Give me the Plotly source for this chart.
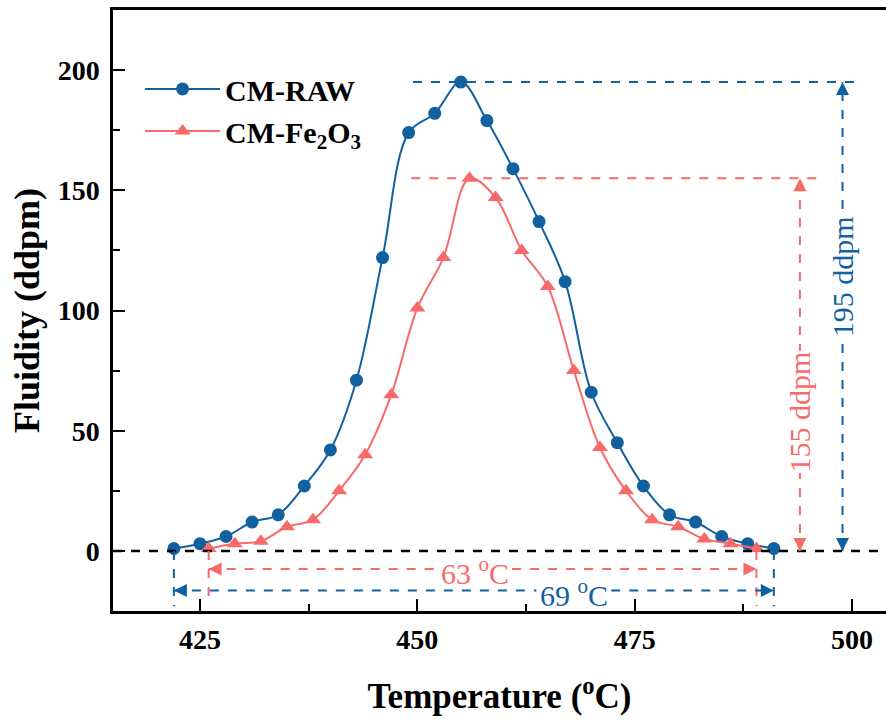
import plotly.graph_objects as go

# ---- data ----
raw_T = [422, 425, 428, 431, 434, 437, 440, 443, 446, 449, 452, 455,
         458, 461, 464, 467, 470, 473, 476, 479, 482, 485, 488, 491]
raw_F = [1, 3, 6, 12, 15, 27, 42, 71, 122, 174, 182, 195,
         179, 159, 137, 112, 66, 45, 27, 15, 12, 6, 3, 1]
fe_T = [426, 429, 432, 435, 438, 441, 444, 447, 450, 453, 456,
        459, 462, 465, 468, 471, 474, 477, 480, 483, 486, 489]
fe_F = [1, 3, 4, 10, 13, 25, 40, 65, 101, 122, 155,
        147, 125, 110, 75, 43, 25, 13, 10, 5, 3, 1]

raw_peak = 195
fe_peak = 155
raw_start, raw_end = 422, 491
fe_start, fe_end = 426, 489

x_ticks = [425, 450, 475, 500]
y_ticks = [0, 50, 100, 150, 200]

BLUE = "#11609f"
RED = "#f86a6a"
FONT = "Liberation Serif"

fig = go.Figure()
fig.add_trace(go.Scatter(
    x=raw_T, y=raw_F, name="<b>CM-RAW</b>", mode="lines+markers",
    line=dict(color=BLUE, width=2, shape="spline", smoothing=1.0),
    marker=dict(symbol="circle", size=13, color=BLUE)))
fig.add_trace(go.Scatter(
    x=fe_T, y=fe_F, name="<b>CM-Fe<sub>2</sub>O<sub>3</sub></b>", mode="lines+markers",
    line=dict(color=RED, width=2, shape="spline", smoothing=1.0),
    marker=dict(symbol="triangle-up", size=14, color=RED)))

shapes = []
def dline(x0, x1, y0, y1, color, width=2, xref="x"):
    shapes.append(dict(type="line", xref=xref, yref="y", x0=x0, x1=x1, y0=y0, y1=y1,
                       line=dict(color=color, width=width, dash="dash")))

# zero line
dline(0, 1, 0, 0, "black", 2.5, xref="paper")
# peak guide lines
dline(449.5, 500.6, raw_peak, raw_peak, BLUE)
dline(449.3, 496.4, fe_peak, fe_peak, RED)
# vertical arrow lines
bx, rx = 498.9, 494.0
dline(bx, bx, 0, raw_peak, BLUE)
dline(rx, rx, 0, fe_peak, RED)
# drop lines at start/end
dline(raw_start, raw_start, 0, -23, BLUE)
dline(raw_end, raw_end, 0, -23, BLUE)
dline(fe_start, fe_start, 0, -21, RED)
dline(fe_end, fe_end, 0, -23, RED)
# horizontal width arrows (split around the labels)
fe_y, raw_y = -7.5, -16.5
fe_lx, raw_lx = 456.6, 468.0
half = 4.3
dline(fe_start, fe_lx - half, fe_y, fe_y, RED)
dline(fe_lx + half, fe_end, fe_y, fe_y, RED)
dline(raw_start, raw_lx - half, raw_y, raw_y, BLUE)
dline(raw_lx + half, raw_end, raw_y, raw_y, BLUE)

annotations = []

def arrowhead(x, y, ax, ay, color):
    annotations.append(dict(x=x, y=y, ax=ax, ay=ay, xref="x", yref="y",
                            axref="x", ayref="y", text="", showarrow=True,
                            arrowhead=2, arrowsize=1.3, arrowwidth=2,
                            arrowcolor=color))

arrowhead(bx, raw_peak, bx, raw_peak - 6, BLUE)
arrowhead(bx, 0, bx, 6, BLUE)
arrowhead(rx, fe_peak, rx, fe_peak - 6, RED)
arrowhead(rx, 0, rx, 6, RED)
arrowhead(fe_start, fe_y, fe_start + 0.8, fe_y, RED)
arrowhead(fe_end, fe_y, fe_end - 0.8, fe_y, RED)
arrowhead(raw_start, raw_y, raw_start + 0.8, raw_y, BLUE)
arrowhead(raw_end, raw_y, raw_end - 0.8, raw_y, BLUE)

ANN = 30
annotations.append(dict(x=bx, y=114, text=f"{raw_peak} ddpm", textangle=-90,
                        showarrow=False, bgcolor="white", borderpad=0,
                        font=dict(family=FONT, size=ANN, color=BLUE)))
annotations.append(dict(x=rx, y=58, text=f"{fe_peak} ddpm", textangle=-90,
                        showarrow=False, bgcolor="white", borderpad=0,
                        font=dict(family=FONT, size=ANN, color=RED)))
annotations.append(dict(x=fe_lx, y=fe_y - 0.8, text=f"{fe_end - fe_start} <sup>o</sup>C",
                        showarrow=False, borderpad=0,
                        font=dict(family=FONT, size=ANN, color=RED)))
annotations.append(dict(x=raw_lx, y=raw_y - 1.2, text=f"{raw_end - raw_start} <sup>o</sup>C",
                        showarrow=False, borderpad=0,
                        font=dict(family=FONT, size=ANN, color=BLUE)))

fig.update_layout(
    width=886, height=724,
    margin=dict(l=113, r=0, t=10, b=113),
    plot_bgcolor="white", paper_bgcolor="white",
    font=dict(family=FONT, color="black"),
    shapes=shapes, annotations=annotations,
    legend=dict(x=0.035, y=0.912, xanchor="left", yanchor="top",
                bgcolor="rgba(0,0,0,0)", tracegroupgap=0, itemwidth=75,
                font=dict(family=FONT, size=30)),
)
fig.update_xaxes(
    range=[415, 503.9], tickvals=x_ticks, ticktext=[f"<b>{v}</b>" for v in x_ticks],
    ticks="inside", ticklen=12, tickwidth=2, tickcolor="black",
    minor=dict(dtick=12.5, tick0=425, ticks="inside", ticklen=7, tickwidth=2, tickcolor="black"),
    showline=True, linecolor="black", linewidth=2.5, mirror=True,
    showgrid=False, zeroline=False,
    tickfont=dict(family=FONT, size=28), ticklabelstandoff=2,
    title=dict(text="<b>Temperature (<sup>o</sup>C)</b>", font=dict(family=FONT, size=35), standoff=30),
)
fig.update_yaxes(
    range=[-25, 225], tickvals=y_ticks, ticktext=[f"<b>{v}</b>" for v in y_ticks],
    ticks="inside", ticklen=12, tickwidth=2, tickcolor="black",
    minor=dict(dtick=25, tick0=0, ticks="inside", ticklen=7, tickwidth=2, tickcolor="black"),
    showline=True, linecolor="black", linewidth=2.5, mirror=False,
    showgrid=False, zeroline=False,
    tickfont=dict(family=FONT, size=28), ticklabelstandoff=5,
    title=dict(text="<b>Fluidity (ddpm)</b>", font=dict(family=FONT, size=36), standoff=8),
)

fig.write_html("out.html")
